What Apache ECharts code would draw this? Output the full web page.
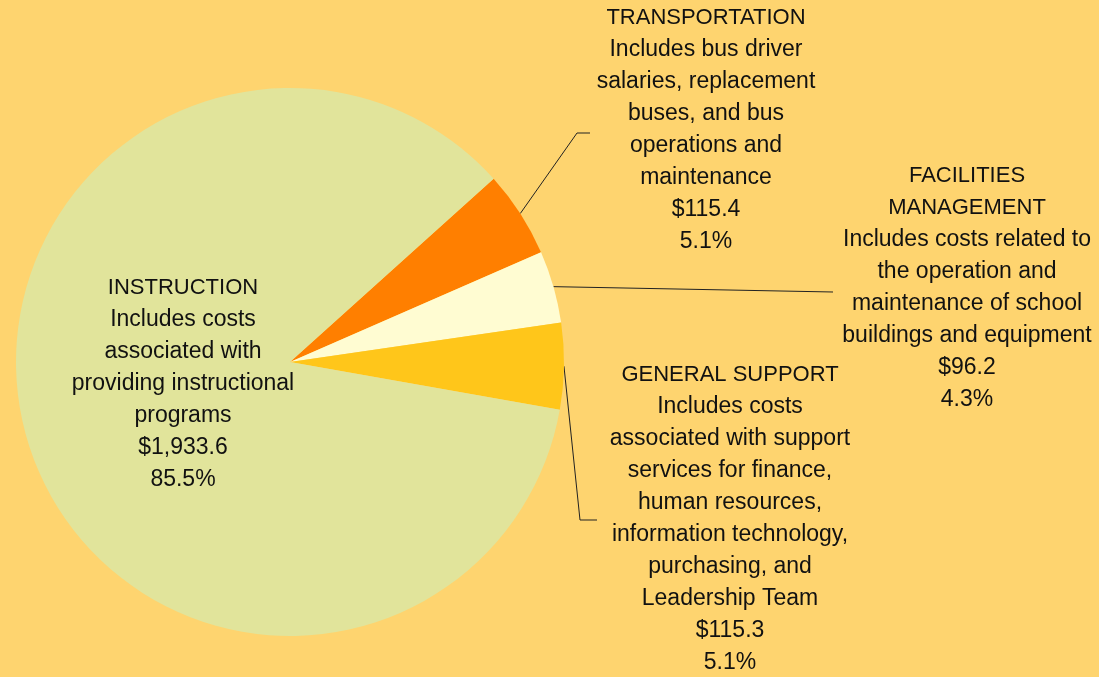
<!DOCTYPE html>
<html>
<head>
<meta charset="utf-8">
<script src="https://cdn.jsdelivr.net/npm/echarts@6/dist/echarts.min.js"></script>
<style>
html,body{margin:0;padding:0;background:#FED46F;}
#main{width:1099px;height:677px;}
</style>
</head>
<body>
<div id="main"></div>
<script>
// ---- data ----
const categories = ['TRANSPORTATION', 'FACILITIES\nMANAGEMENT', 'GENERAL SUPPORT', 'INSTRUCTION'];
const descriptions = [
  'Includes bus driver\nsalaries, replacement\nbuses, and bus\noperations and\nmaintenance',
  'Includes costs related to\nthe operation and\nmaintenance of school\nbuildings and equipment',
  'Includes costs\nassociated with support\nservices for finance,\nhuman resources,\ninformation technology,\npurchasing, and\nLeadership Team',
  'Includes costs\nassociated with\nproviding instructional\nprograms'
];
const amounts = [115.4, 96.2, 115.3, 1933.6];
const amountLabels = ['$115.4', '$96.2', '$115.3', '$1,933.6'];
const percentLabels = ['5.1%', '4.3%', '5.1%', '85.5%'];

// ---- styles / layout ----
const colors = ['#FF7F00', '#FFFCD2', '#FFC61A', '#E1E49B'];
const labelCenters = [[706, 130], [967, 288], [730, 519], [183, 384]];
const leaderBends = [
  [[577, 133], [590, 133]],
  [[833, 292], [833, 292]],
  [[580, 520], [597, 520]],
  null
];
const FONT = "'Liberation Sans', Arial, sans-serif";

const chart = echarts.init(document.getElementById('main'), null, {renderer: 'canvas'});
const seriesData = categories.map((c, i) => ({
  name: c,
  value: amounts[i],
  itemStyle: {color: colors[i]},
  label: {
    formatter: '{t|' + c + '}\n{b|' + descriptions[i] + '\n' + amountLabels[i] + '\n' + percentLabels[i] + '}'
  },
  labelLine: {show: leaderBends[i] !== null}
}));

chart.setOption({
  backgroundColor: '#FED46F',
  animation: false,
  series: [{
    type: 'pie',
    center: [290, 362],
    radius: 274,
    startAngle: 42,
    clockwise: true,
    avoidLabelOverlap: false,
    itemStyle: {borderWidth: 0},
    emphasis: {disabled: true},
    label: {
      show: true,
      position: 'outside',
      color: '#111',
      fontFamily: FONT,
      fontSize: 22,
      lineHeight: 32,
      align: 'center',
      rich: {
        t: {fontFamily: FONT, fontSize: 22, lineHeight: 32, color: '#111', align: 'center'},
        b: {fontFamily: FONT, fontSize: 23, lineHeight: 32, color: '#111', align: 'center'}
      }
    },
    labelLine: {
      show: true,
      length: 20,
      length2: 10,
      lineStyle: {color: '#222', width: 1}
    },
    labelLayout: function (params) {
      const i = params.dataIndex;
      const c = labelCenters[i];
      const res = {x: c[0], y: c[1], align: 'center', verticalAlign: 'middle'};
      if (leaderBends[i] && params.labelLinePoints) {
        res.labelLinePoints = [params.labelLinePoints[0], leaderBends[i][0], leaderBends[i][1]];
      }
      return res;
    },
    data: seriesData
  }]
});
</script>
</body>
</html>
